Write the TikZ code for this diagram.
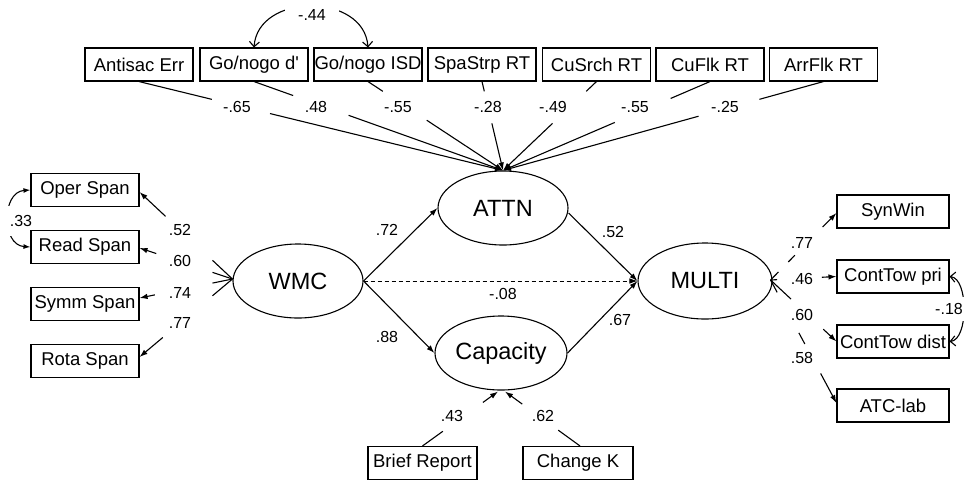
\documentclass[tikz,border=0pt]{standalone}
\usepackage{fontspec}
\setmainfont{Liberation Sans}[Ligatures=TeXOff]
\usetikzlibrary{shapes.geometric,arrows.meta,calc,backgrounds}
\newcommand{\segm}[5][]{\draw[#1] ($(#2)!#4!(#3)$) -- ($(#2)!#5!(#3)$);}
\begin{document}
\begin{tikzpicture}[x=1pt,y=-1pt,line width=1.1pt,
  box/.style={draw,line width=1.1pt,minimum width=108pt,minimum height=33pt,inner sep=0pt,font=\fontsize{18.5pt}{20pt}\selectfont},
  lat/.style={draw,ellipse,line width=1.1pt,minimum width=130pt,minimum height=74pt,inner sep=0pt,font=\fontsize{23.5pt}{26pt}\selectfont},
  lbl/.style={font=\fontsize{16pt}{18pt}\selectfont,inner sep=1pt},
  arr/.style={-{Latex[length=8pt,width=5.5pt]}},
  covf/.style={line width=1.1pt,{Latex[length=7pt,width=5pt]}-{Latex[length=7pt,width=5pt]}},
  covo/.style={line width=1.1pt,{Straight Barb[length=5pt,width=10pt]}-{Straight Barb[length=5pt,width=10pt]}}]
\useasboundingbox (0,0) rectangle (965,480);
% top indicators
\node[box] (antisac) at (139,64.5) {Antisac Err};
\node[box] (gnd) at (254,64.5) {Go/nogo d'};
\node[box] (isd) at (368,64.5) {Go/nogo ISD};
\node[box] (spa) at (482,64.5) {SpaStrp RT};
\node[box] (cus) at (596.5,64.5) {CuSrch RT};
\node[box] (cuf) at (710,64.5) {CuFlk RT};
\node[box] (arrf) at (823.5,64.5) {ArrFlk RT};
% left indicators
\node[box] (oper) at (85,190) {Oper Span};
\node[box] (read) at (85,247) {Read Span};
\node[box] (symm) at (85,304) {Symm Span};
\node[box] (rota) at (85,361) {Rota Span};
% right indicators
\node[box,minimum width=112pt] (syn) at (893,211.5) {SynWin};
\node[box,minimum width=112pt] (pri) at (893,276.5) {ContTow pri};
\node[box,minimum width=112pt] (dist) at (893,341.5) {ContTow dist};
\node[box,minimum width=112pt] (atc) at (893,405.5) {ATC-lab};
% bottom indicators
\node[box,minimum width=109pt] (brief) at (422.5,463) {Brief Report};
\node[box,minimum width=110pt] (chk) at (578,463) {Change K};
% latents
\node[lat] (wmc) at (298,281) {WMC};
\node[lat] (attn) at (503,208) {ATTN};
\node[lat,minimum width=132pt] (cap) at (501,353) {Capacity};
\node[lat,minimum width=134pt,minimum height=76pt] (multi) at (705,281) {MULTI};

% ATTN indicator paths
\foreach \b/\a/\c in {antisac/0.20/0.36, gnd/0.157/0.38, isd/0.11/0.435, spa/0.11/0.47, cus/0.11/0.47, cuf/0.19/0.46, arrf/0.20/0.39}{
  \segm{\b.south}{attn.north}{0}{\a}
  \segm[arr]{\b.south}{attn.north}{\c}{1}
}
\node[lbl] at (237,107) {-.65};
\node[lbl] at (316,107) {.48};
\node[lbl] at (398,107) {-.55};
\node[lbl] at (488,107) {-.28};
\node[lbl] at (553,107) {-.49};
\node[lbl] at (635,107) {-.55};
\node[lbl] at (725,107) {-.25};

% WMC indicator paths
\coordinate (wl) at ($(wmc.west)+(0,-2)$);
\coordinate (toper) at ($(oper.east)+(0,2)$);
\coordinate (tread) at ($(read.east)+(0,1)$);
\coordinate (tsymm) at ($(symm.east)+(0,-6)$);
\coordinate (trota) at ($(rota.east)+(0,-4)$);
\foreach \t/\c in {toper/0.72, tread/0.82, tsymm/0.835, trota/0.75}{
  \segm{wl}{\t}{0}{0.215}
  \segm[arr]{wl}{\t}{\c}{1}
}
\node[lbl] at (180,230) {.52};
\node[lbl] at (180,261) {.60};
\node[lbl] at (180,293) {.74};
\node[lbl] at (180,323) {.77};

% MULTI indicator paths
\coordinate (me) at ($(multi.east)+(-2,-1)$);
\coordinate (tsyn) at ($(syn.west)+(0,1.5)$);
\coordinate (tpri) at (pri.west);
\coordinate (tdist) at (dist.west);
\coordinate (tatc) at ($(atc.west)+(0,-2.5)$);
\segm{me}{tsyn}{0}{0.12}
\segm{me}{tsyn}{0.27}{0.37}
\segm[arr]{me}{tsyn}{0.79}{1}
\segm{me}{tpri}{0}{0.1}
\segm[arr]{me}{tpri}{0.78}{1}
\segm{me}{tdist}{0}{0.31}
\segm[arr]{me}{tdist}{0.80}{1}
\segm{me}{tatc}{0}{0.1}
\segm{me}{tatc}{0.43}{0.52}
\segm[arr]{me}{tatc}{0.76}{1}
\node[lbl] at (802,243) {.77};
\node[lbl] at (802,279) {.46};
\node[lbl] at (802,315) {.60};
\node[lbl] at (802,358) {.58};

% Capacity indicator paths
\coordinate (sb) at (brief.north);
\coordinate (sc) at ($(chk.north)+(2,0)$);
\coordinate (cb1) at ($(cap.south)+(-3,1)$);
\coordinate (cb2) at ($(cap.south)+(4,1)$);
\segm{sb}{cb1}{0}{0.27}
\segm[arr]{sb}{cb1}{0.80}{1}
\segm{sc}{cb2}{0}{0.29}
\segm[arr]{sc}{cb2}{0.77}{1}
\node[lbl] at (452,416) {.43};
\node[lbl] at (543,416) {.62};

% structural paths
\draw[arr] (wmc.east) -- (attn.west);
\draw[arr] (wmc.east) -- (cap.west);
\draw[arr,line width=0.8pt,dash pattern=on 4pt off 3pt] (wmc.east) -- (multi.west);
\draw[arr] ($(attn.east)+(0,5)$) -- (multi.west);
\draw[arr] (cap.east) -- (multi.west);
\node[lbl] at (387,230) {.72};
\node[lbl] at (387,337) {.88};
\node[lbl] at (503,294) {-.08};
\node[lbl] at (613,232) {.52};
\node[lbl] at (620,320) {.67};

% covariances
\begin{pgfonlayer}{background}
\draw[covf] (oper.west) .. controls +(-29,2) and +(-29,-2) .. (read.west);
\node[lbl,fill=white,inner xsep=4pt,inner ysep=9pt] at (21,221) {.33};
\draw[covo] (gnd.north) .. controls +(4,-55) and +(-4,-55) .. (isd.north);
\node[lbl,fill=white,inner xsep=13pt,inner ysep=6pt] at (312,15) {-.44};
\draw[covo] (pri.east) .. controls +(19,2) and +(19,-2) .. (dist.east);
\node[lbl,fill=white,inner xsep=2pt,inner ysep=6pt] at (949,309) {-.18};
\end{pgfonlayer}
\end{tikzpicture}
\end{document}
